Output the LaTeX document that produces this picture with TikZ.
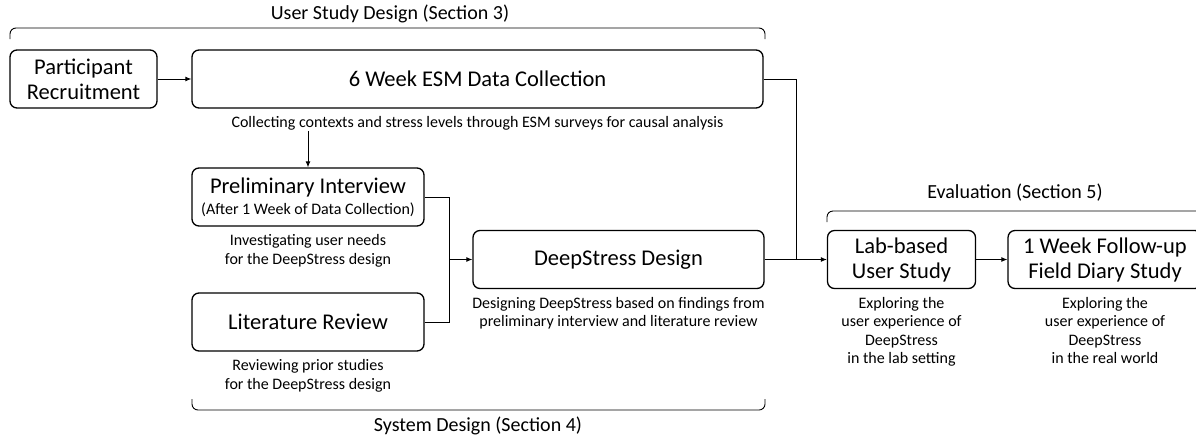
\documentclass[tikz,border=0pt]{standalone}
\usepackage{fontspec}
\setmainfont{Carlito}
\usepackage{tikz}
\usetikzlibrary{arrows.meta,positioning}

\begin{document}
\begin{tikzpicture}[x=1pt, y=-1pt,
      stage/.style={draw, line width=1.3pt, rounded corners=7pt, align=center,
                    inner sep=0pt, font=\fontsize{22.5}{25}\selectfont},
      note/.style={align=center, inner sep=0pt, font=\fontsize{16}{18.3}\selectfont},
      conn/.style={line width=0.9pt, -{Latex[length=6pt,width=5pt]}},
      wire/.style={line width=0.9pt},
      span/.style={line width=0.9pt, rounded corners=6pt},
      spanlabel/.style={inner sep=0pt, font=\fontsize{20}{22}\selectfont}]
      \useasboundingbox (0,0) rectangle (1196,440);
      \clip (0,0) rectangle (1196,440);

      % Stages of the study
      \node[stage, minimum width=147, minimum height=58] (recruit) at (83.5,79)
        {Participant\\Recruitment};
      \node[stage, minimum width=571, minimum height=58] (esm) at (477.5,79)
        {6 Week ESM Data Collection};
      \node[stage, minimum width=232, minimum height=58] (prelim) at (308,197)
        {Preliminary Interview\\[-4pt]{\fontsize{16}{18}\selectfont(After 1 Week of Data Collection)}};
      \node[stage, minimum width=232, minimum height=58] (litrev) at (308,322)
        {Literature Review};
      \node[stage, minimum width=291, minimum height=58] (design) at (618.5,259.5)
        {DeepStress Design};
      \node[stage, minimum width=148, minimum height=58] (lab) at (901.5,259.5)
        {Lab-based\\User Study};
      \node[stage, minimum width=194, minimum height=58] (follow) at (1105,259.5)
        {1 Week Follow-up\\Field Diary Study};

      % Descriptions under the stages
      \node[note, below=8pt of esm] (esmnote)
        {Collecting contexts and stress levels through ESM surveys for causal analysis};
      \node[note, below=8pt of prelim] (prelimnote)
        {Investigating user needs\\for the DeepStress design};
      \node[note, below=8pt of litrev] (litrevnote)
        {Reviewing prior studies\\for the DeepStress design};
      \node[note, below=8pt of design] (designnote)
        {Designing DeepStress based on findings from\\preliminary interview and literature review};
      \node[note, below=8pt of lab] (labnote)
        {Exploring the\\user experience of\\DeepStress\\in the lab setting};
      \node[note, below=8pt of follow] (follownote)
        {Exploring the\\user experience of\\DeepStress\\in the real world};

      % Connectors
      \coordinate (merge) at (449,259.5);
      \coordinate (split) at (796,259.5);
      \draw[conn] (recruit) -- (esm);
      \draw[conn] (esmnote.south -| prelim.north) -- (prelim.north);
      \draw[wire] (prelim.east) -| (merge);
      \draw[wire] (litrev.east) -| (merge);
      \draw[conn] (merge) -- (design.west);
      \draw[wire] (esm.east) -| (split);
      \draw[conn] (design.east) -- (lab.west);
      \draw[conn] (lab.east) -- (follow.west);

      % Section spans
      \draw[span] (10,39) -- (10,28) -- (765,28) -- (765,39);
      \node[spanlabel] (userspan) at (390,14) {User Study Design (Section 3)};
      \draw[span] (192,399) -- (192,410) -- (765,410) -- (765,399);
      \node[spanlabel] (sysspan) at (478,426) {System Design (Section 4)};
      \draw[span] (827,222) -- (827,211) -- (1210,211);
      \node[spanlabel] (evalspan) at (1015,193) {Evaluation (Section 5)};
    \end{tikzpicture}
\end{document}
